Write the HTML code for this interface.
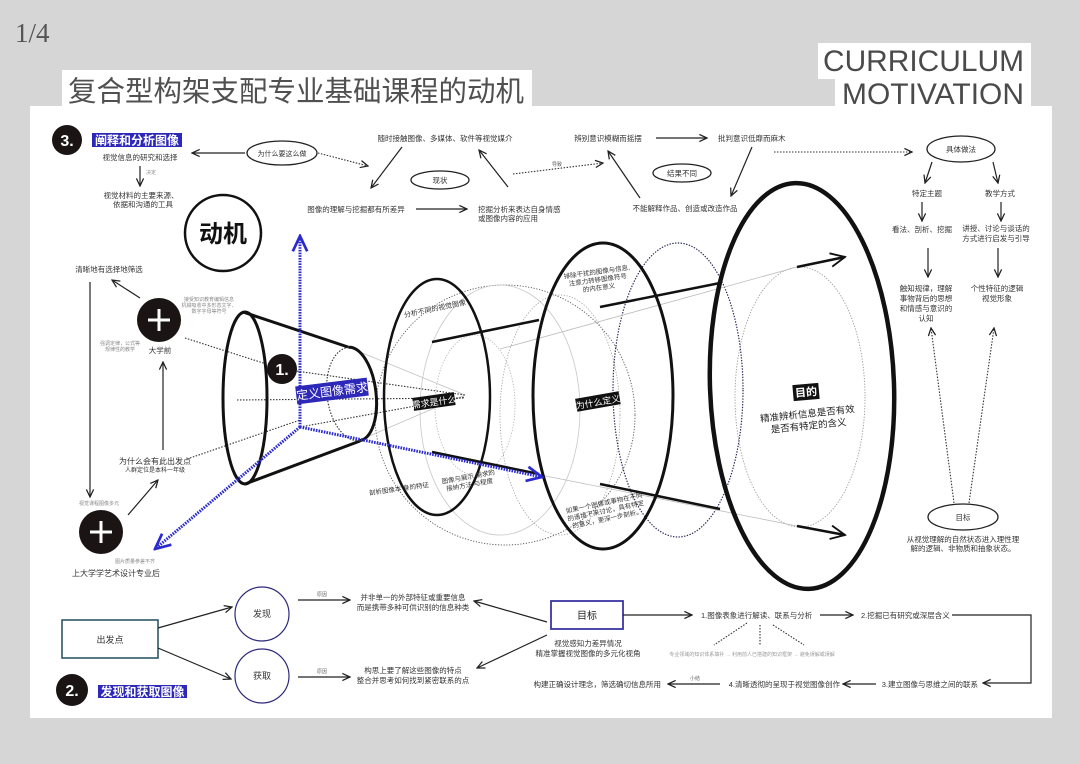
<!DOCTYPE html>
<html><head><meta charset="utf-8">
<style>
html,body{margin:0;padding:0;background:#d6d6d6;}
svg{display:block;}
text{font-family:"Liberation Sans","Noto Sans CJK SC",sans-serif;fill:#333;}
.t{font-size:7.5px;text-anchor:middle;}
.s{font-size:7.5px;text-anchor:start;}
.e{font-size:7.5px;text-anchor:end;}
.g{font-size:5px;text-anchor:middle;fill:#8a8a8a;}
.ln{stroke:#222;stroke-width:1.2;fill:none;}
.dl{stroke:#333;stroke-width:1.1;fill:none;stroke-dasharray:1.5 1.5;}
.w{fill:#fff;font-weight:bold;text-anchor:middle;}
</style></head><body>
<svg width="1080" height="764" viewBox="0 0 1080 764" xmlns="http://www.w3.org/2000/svg">
<defs>
<marker id="a" viewBox="0 0 10 10" refX="9" refY="5" markerWidth="9" markerHeight="9" markerUnits="userSpaceOnUse" orient="auto"><path d="M0.5,1 L9,5 L0.5,9" fill="none" stroke="#222" stroke-width="1.4"/></marker>
<marker id="A" viewBox="0 0 10 10" refX="9" refY="5" markerWidth="17" markerHeight="17" markerUnits="userSpaceOnUse" orient="auto"><path d="M0.5,1 L9,5 L0.5,9" fill="none" stroke="#111" stroke-width="1.1"/></marker>
<marker id="b" viewBox="0 0 10 10" refX="9" refY="5" markerWidth="18" markerHeight="18" markerUnits="userSpaceOnUse" orient="auto"><path d="M0.5,1 L9,5 L0.5,9" fill="none" stroke="#2a2ad0" stroke-width="1.5"/></marker>
</defs>

<!-- background page -->
<rect x="0" y="0" width="1080" height="764" fill="#d6d6d6"/>
<text x="15" y="42" style="font-family:'Liberation Serif',serif;font-size:27px;fill:#555;">1/4</text>

<rect x="62" y="70" width="470" height="40" fill="#fff"/>
<text x="68" y="101" style="font-size:28.5px;fill:#505050;font-family:'Liberation Sans','Noto Sans CJK SC',sans-serif;">复合型构架支配专业基础课程的动机</text>

<rect x="818" y="43" width="213" height="36" fill="#fff"/>
<rect x="835" y="78" width="196" height="30" fill="#fff"/>
<text x="823" y="71" style="font-size:30px;fill:#4a4a4a;" textLength="201" lengthAdjust="spacingAndGlyphs">CURRICULUM</text>
<text x="842" y="104" style="font-size:29.5px;fill:#4a4a4a;" textLength="182" lengthAdjust="spacingAndGlyphs">MOTIVATION</text>

<rect x="30" y="106" width="1022" height="612" fill="#fff"/>

<!-- ========== central faint structures ========== -->
<ellipse cx="505" cy="415" rx="130" ry="130" fill="none" stroke="#555" stroke-width="0.9" stroke-dasharray="1.2 1.6"/>
<ellipse cx="500" cy="410" rx="80" ry="125" fill="none" stroke="#c8c8c8" stroke-width="0.8"/>
<ellipse cx="475" cy="405" rx="40" ry="70" fill="none" stroke="#aaa" stroke-width="0.8" stroke-dasharray="1.2 1.6"/>
<ellipse cx="560" cy="415" rx="60" ry="120" fill="none" stroke="#999" stroke-width="0.8" stroke-dasharray="1.2 1.6"/>
<ellipse cx="678" cy="390" rx="65" ry="147" fill="none" stroke="#2a2a5a" stroke-width="1.2" stroke-dasharray="1.4 1.4"/>
<ellipse cx="800" cy="397" rx="65" ry="130" fill="none" stroke="#999" stroke-width="0.9" stroke-dasharray="1.3 1.5"/>
<line x1="500" y1="349" x2="797" y2="267" stroke="#bbb" stroke-width="0.8"/>
<line x1="440" y1="455" x2="797" y2="526" stroke="#bbb" stroke-width="0.8"/>
<line x1="348" y1="347" x2="465" y2="395" stroke="#bbb" stroke-width="0.7"/>
<line x1="360" y1="440" x2="465" y2="395" stroke="#bbb" stroke-width="0.7"/>

<!-- dotted lines to funnel -->
<polyline points="185,338 282,369 465,395" class="dl"/>
<line x1="237" y1="400" x2="465" y2="398" class="dl"/>
<line x1="190" y1="458" x2="300" y2="420" class="dl"/>
<line x1="300" y1="427" x2="465" y2="397" class="dl" stroke="#666"/>

<!-- funnel -->
<ellipse cx="245" cy="398" rx="22" ry="86" fill="none" stroke="#111" stroke-width="3"/>
<line x1="243" y1="312" x2="348" y2="347" stroke="#111" stroke-width="3"/>
<line x1="245" y1="484" x2="360" y2="441" stroke="#111" stroke-width="3"/>
<g transform="rotate(-7 354 394)">
<path d="M354,347 A22,47 0 0 1 354,441" fill="none" stroke="#111" stroke-width="3"/>
<path d="M354,441 A27,47 0 0 1 354,347" fill="none" stroke="#333" stroke-width="1.1" stroke-dasharray="1.5 1.5"/>
</g>

<!-- main ellipses -->
<ellipse cx="437" cy="397" rx="53" ry="118" fill="none" stroke="#111" stroke-width="2.5"/>
<ellipse cx="603" cy="396" rx="70" ry="153" fill="none" stroke="#111" stroke-width="3"/>
<ellipse cx="802" cy="386" rx="92" ry="203" fill="none" stroke="#111" stroke-width="4.5" transform="rotate(-2 802 386)"/>

<!-- thick through-lines -->
<line x1="432" y1="342" x2="539" y2="320" stroke="#111" stroke-width="2.5"/>
<line x1="600" y1="307" x2="720" y2="283" stroke="#111" stroke-width="2.5"/>
<line x1="797" y1="267" x2="845" y2="257" stroke="#111" stroke-width="2.5" marker-end="url(#A)"/>
<line x1="432" y1="452" x2="539" y2="474" stroke="#111" stroke-width="2.5"/>
<line x1="600" y1="484" x2="720" y2="509" stroke="#111" stroke-width="2.5"/>
<line x1="797" y1="526" x2="845" y2="535" stroke="#111" stroke-width="2.5" marker-end="url(#A)"/>

<!-- blue axes -->
<g stroke="#2a2ad0" stroke-width="3" stroke-dasharray="1.6 1.1" fill="none">
<line x1="300" y1="427" x2="300" y2="236" marker-end="url(#b)"/>
<line x1="300" y1="427" x2="542" y2="477" marker-end="url(#b)"/>
<line x1="300" y1="427" x2="155" y2="549" marker-end="url(#b)"/>
</g>

<!-- 1. circle and blue label -->
<circle cx="282" cy="369" r="15" fill="#1a1414"/>
<text x="282" y="375" class="w" style="font-size:16px;">1.</text>
<g transform="translate(332,391) rotate(-7)">
<rect x="-36" y="-9" width="72" height="18" fill="#2e28b8"/>
<text x="0" y="4.5" style="font-size:12px;fill:#fff;text-anchor:middle;">定义图像需求</text>
</g>

<!-- center labels -->
<g transform="translate(435,309) rotate(-12)"><text x="0" y="2" class="t" style="font-size:7px;">分析不同的视觉图像</text></g>
<g transform="translate(434,402) rotate(-8)"><rect x="-21" y="-7" width="42" height="13" fill="#111"/><text x="0" y="3.3" style="font-size:9px;fill:#fff;text-anchor:middle;">需求是什么</text></g>
<g transform="translate(598,402) rotate(-10)"><rect x="-22" y="-7" width="44" height="13" fill="#111"/><text x="0" y="3.3" style="font-size:9px;fill:#fff;text-anchor:middle;">为什么定义</text></g>
<g transform="translate(598,281) rotate(-8)">
<text x="0" y="-7" class="t" style="font-size:6.5px;">排除干扰的图像与信息,</text>
<text x="0" y="1" class="t" style="font-size:6.5px;">注意力转移图像符号</text>
<text x="0" y="9" class="t" style="font-size:6.5px;">的内在意义</text>
</g>
<g transform="translate(399,489) rotate(-8)"><text x="0" y="2" class="t" style="font-size:6.5px;">剖析图像本 身的特征</text></g>
<g transform="translate(469,481) rotate(-10)">
<text x="0" y="-2" class="t" style="font-size:6.5px;">图像与展示 需求的</text>
<text x="0" y="6" class="t" style="font-size:6.5px;">接纳方法 与程度</text>
</g>
<g transform="translate(606,512) rotate(-12)">
<text x="0" y="-7" class="t" style="font-size:6.5px;">如果一个图像或事物在不同</text>
<text x="0" y="1" class="t" style="font-size:6.5px;">的语境下来讨论，具有特定</text>
<text x="0" y="9" class="t" style="font-size:6.5px;">的意义，更深一步剖析。</text>
</g>
<g transform="translate(806,392) rotate(-5)"><rect x="-13" y="-8" width="26" height="16" fill="#111"/><text x="0" y="4" style="font-size:11px;fill:#fff;font-weight:bold;text-anchor:middle;">目的</text></g>
<g transform="translate(808,420) rotate(-6)">
<text x="0" y="-3" class="t" style="font-size:9.5px;fill:#222;">精准辨析信息是否有效</text>
<text x="0" y="9" class="t" style="font-size:9.5px;fill:#222;">是否有特定的含义</text>
</g>

<!-- ========== top-left ========== -->
<circle cx="67" cy="140" r="15" fill="#1a1414"/>
<text x="67" y="146" class="w" style="font-size:16px;">3.</text>
<rect x="92" y="133" width="90" height="14" fill="#2e28b8"/>
<text x="137" y="144.5" class="w" style="font-size:12px;">阐释和分析图像</text>
<text x="140" y="160" class="t">视觉信息的研究和选择</text>
<line x1="140" y1="166" x2="140" y2="186" class="ln" marker-end="url(#a)"/>
<text x="151" y="174" class="g">决定</text>
<text x="141" y="198" class="t">视觉材料的主要来源、</text>
<text x="143" y="207" class="t">依据和沟通的工具</text>
<ellipse cx="282" cy="153" rx="35" ry="12" fill="none" stroke="#222" stroke-width="1.3"/>
<text x="282" y="156" class="t" style="font-size:7px;">为什么要这么做</text>
<line x1="245" y1="153" x2="192" y2="153" class="ln" marker-end="url(#a)"/>
<line x1="318" y1="153" x2="368" y2="166" class="dl" marker-end="url(#a)"/>
<circle cx="223" cy="233" r="38" fill="none" stroke="#111" stroke-width="2.5"/>
<text x="223" y="242" style="font-size:24px;font-weight:bold;text-anchor:middle;fill:#111;">动机</text>

<!-- ========== top-middle ========== -->
<text x="445" y="141" class="t">随时接触图像、多媒体、软件等视觉媒介</text>
<ellipse cx="440" cy="180" rx="29" ry="9" fill="none" stroke="#222" stroke-width="1.3"/>
<text x="440" y="183" class="t">现状</text>
<line x1="402" y1="147" x2="371" y2="188" class="ln" marker-end="url(#a)"/>
<text x="356" y="212" class="t">图像的理解与挖掘都有所差异</text>
<line x1="416" y1="209" x2="467" y2="209" class="ln" marker-end="url(#a)"/>
<text x="478" y="212" class="s">挖掘分析来表达自身情感</text>
<text x="478" y="221" class="s">或图像内容的应用</text>
<line x1="508" y1="187" x2="479" y2="150" class="ln" marker-end="url(#a)"/>
<line x1="513" y1="174" x2="603" y2="163" class="dl" marker-end="url(#a)"/>
<text x="557" y="166" class="g" style="fill:#555;">导致</text>
<text x="608" y="141" class="t">辨别意识模糊而摇摆</text>
<line x1="656" y1="138" x2="707" y2="138" class="ln" marker-end="url(#a)"/>
<text x="718" y="141" class="s">批判意识低靡而麻木</text>
<ellipse cx="682" cy="173" rx="29" ry="9" fill="none" stroke="#222" stroke-width="1.3"/>
<text x="682" y="176" class="t">结果不同</text>
<line x1="752" y1="147" x2="731" y2="196" class="ln" marker-end="url(#a)"/>
<text x="685" y="211" class="t">不能解释作品、创造或改造作品</text>
<line x1="640" y1="198" x2="608" y2="151" class="ln" marker-end="url(#a)"/>
<line x1="774" y1="152" x2="912" y2="152" class="dl" marker-end="url(#a)"/>

<!-- ========== top-right ========== -->
<ellipse cx="961" cy="149" rx="34" ry="13" fill="none" stroke="#222" stroke-width="1.3"/>
<text x="961" y="152" class="t">具体做法</text>
<line x1="932" y1="162" x2="925" y2="183" class="ln" marker-end="url(#a)"/>
<line x1="993" y1="162" x2="998" y2="183" class="ln" marker-end="url(#a)"/>
<text x="927" y="196" class="t">特定主题</text>
<text x="1000" y="196" class="t">教学方式</text>
<line x1="922" y1="202" x2="922" y2="221" class="ln" marker-end="url(#a)"/>
<line x1="1001" y1="202" x2="1001" y2="221" class="ln" marker-end="url(#a)"/>
<text x="922" y="232" class="t">看法、剖析、挖掘</text>
<text x="996" y="231" class="t">讲授、讨论与谈话的</text>
<text x="996" y="241" class="t">方式进行启发与引导</text>
<line x1="928" y1="248" x2="928" y2="277" class="ln" marker-end="url(#a)"/>
<line x1="998" y1="248" x2="998" y2="277" class="ln" marker-end="url(#a)"/>
<text x="926" y="291" class="t">触知规律，理解</text>
<text x="926" y="301" class="t">事物背后的思想</text>
<text x="926" y="311" class="t">和情感与意识的</text>
<text x="926" y="321" class="t">认知</text>
<text x="997" y="291" class="t">个性特征的逻辑</text>
<text x="997" y="301" class="t">视觉形象</text>
<line x1="954" y1="503" x2="931" y2="328" class="dl" marker-end="url(#a)"/>
<line x1="969" y1="503" x2="994" y2="328" class="dl" marker-end="url(#a)"/>
<ellipse cx="963" cy="517" rx="35" ry="13" fill="none" stroke="#222" stroke-width="1.3"/>
<text x="963" y="520" class="t">目标</text>
<text x="963" y="542" class="t">从视觉理解的自然状态进入理性理</text>
<text x="963" y="551" class="t">解的逻辑、非物质和抽象状态。</text>

<!-- ========== left column ========== -->
<text x="109" y="272" class="t">清晰地有选择地筛选</text>
<line x1="90" y1="282" x2="90" y2="497" class="ln" marker-end="url(#a)"/>
<line x1="140" y1="298" x2="112" y2="280" class="ln" marker-end="url(#a)"/>
<circle cx="159" cy="320" r="22" fill="#1a1414"/>
<path d="M148,320 H170 M159,309 V331" stroke="#fff" stroke-width="3"/>
<text x="160" y="353" class="t">大学前</text>
<text x="209" y="301" class="g">接受知识教育编辑信息</text>
<text x="209" y="307" class="g">机械吸收中多形态文字、</text>
<text x="209" y="313" class="g">数字字母等符号</text>
<text x="120" y="345" class="g">强调定律，公式等</text>
<text x="120" y="351" class="g">规律性的教学</text>
<line x1="163" y1="450" x2="163" y2="362" class="ln" marker-end="url(#a)"/>
<text x="155" y="464" class="t" style="font-size:8px;">为什么会有此出发点</text>
<text x="155" y="472" class="t" style="font-size:6px;">人群定位是本科一年级</text>
<line x1="128" y1="515" x2="158" y2="480" class="ln" marker-end="url(#a)"/>
<text x="99" y="505" class="g">视觉课程图像多元</text>
<circle cx="101" cy="532" r="22" fill="#1a1414"/>
<path d="M90,532 H112 M101,521 V543" stroke="#fff" stroke-width="3"/>
<text x="135" y="563" class="g">图片质量参差不齐</text>
<text x="116" y="576" class="t" style="font-size:8px;">上大学学艺术设计专业后</text>

<!-- ========== bottom-left ========== -->
<rect x="62" y="620" width="96" height="38" fill="#fff" stroke="#1f4d5a" stroke-width="1.5"/>
<text x="110" y="643" class="t" style="font-size:9px;">出发点</text>
<line x1="158" y1="628" x2="232" y2="607" class="ln" marker-end="url(#a)"/>
<line x1="158" y1="648" x2="231" y2="679" class="ln" marker-end="url(#a)"/>
<circle cx="262" cy="614" r="27" fill="none" stroke="#2c2a7a" stroke-width="1.2"/>
<circle cx="262" cy="676" r="27" fill="none" stroke="#2c2a7a" stroke-width="1.2"/>
<text x="262" y="617" class="t" style="font-size:9px;">发现</text>
<text x="262" y="679" class="t" style="font-size:9px;">获取</text>
<line x1="298" y1="600" x2="350" y2="600" class="ln" marker-end="url(#a)"/>
<text x="322" y="596" class="g" style="fill:#666;">原因</text>
<line x1="298" y1="677" x2="350" y2="677" class="ln" marker-end="url(#a)"/>
<text x="322" y="673" class="g" style="fill:#666;">原因</text>
<text x="413" y="600" class="t">并非单一的外部特征或重要信息</text>
<text x="413" y="610" class="t">而是携带多种可供识别的信息种类</text>
<text x="413" y="673" class="t">构思上要了解这些图像的特点</text>
<text x="413" y="683" class="t">整合并思考如何找到紧密联系的点</text>
<circle cx="72" cy="690" r="16" fill="#1a1414"/>
<text x="72" y="696" class="w" style="font-size:16px;">2.</text>
<rect x="98" y="685" width="89" height="13" fill="#2e28b8"/>
<text x="142.5" y="696" class="w" style="font-size:12px;">发现和获取图像</text>

<!-- ========== bottom-right ========== -->
<rect x="551" y="601" width="72" height="28" fill="#fff" stroke="#3a35a0" stroke-width="1.8"/>
<text x="587" y="619" class="t" style="font-size:10px;fill:#222;">目标</text>
<line x1="547" y1="622" x2="474" y2="601" class="ln" marker-end="url(#a)"/>
<line x1="547" y1="635" x2="477" y2="668" class="ln" marker-end="url(#a)"/>
<text x="588" y="646" class="t">视觉感知力差异情况</text>
<text x="588" y="656" class="t">精准掌握视觉图像的多元化视角</text>
<line x1="623" y1="615" x2="692" y2="615" class="ln" marker-end="url(#a)"/>
<text x="701" y="618" class="s">1.图像表象进行解读、联系与分析</text>
<line x1="820" y1="615" x2="853" y2="615" class="ln" marker-end="url(#a)"/>
<text x="861" y="618" class="s">2.挖掘已有研究或深层含义</text>
<polyline points="952,615 1031,615 1031,683 983,683" class="ln" stroke-width="1.5" marker-end="url(#a)"/>
<text x="978" y="687" class="e">3.建立图像与思维之间的联系</text>
<line x1="876" y1="684" x2="843" y2="684" class="ln" marker-end="url(#a)"/>
<text x="840" y="687" class="e">4.清晰透彻的呈现于视觉图像创作</text>
<line x1="720" y1="684" x2="668" y2="684" class="ln" marker-end="url(#a)"/>
<text x="695" y="680" class="g" style="fill:#666;">小结</text>
<text x="661" y="687" class="e">构建正确设计理念，筛选确切信息所用</text>
<line x1="747" y1="623" x2="714" y2="645" class="dl"/>
<line x1="760" y1="625" x2="760" y2="645" class="dl"/>
<line x1="773" y1="625" x2="804" y2="645" class="dl"/>
<text x="752" y="656" class="g" style="fill:#9a9a9a;">专业领域的知识体系填补 → 利用前人已搭建的知识框架 → 避免误解或误解</text>
</svg>
</body></html>
